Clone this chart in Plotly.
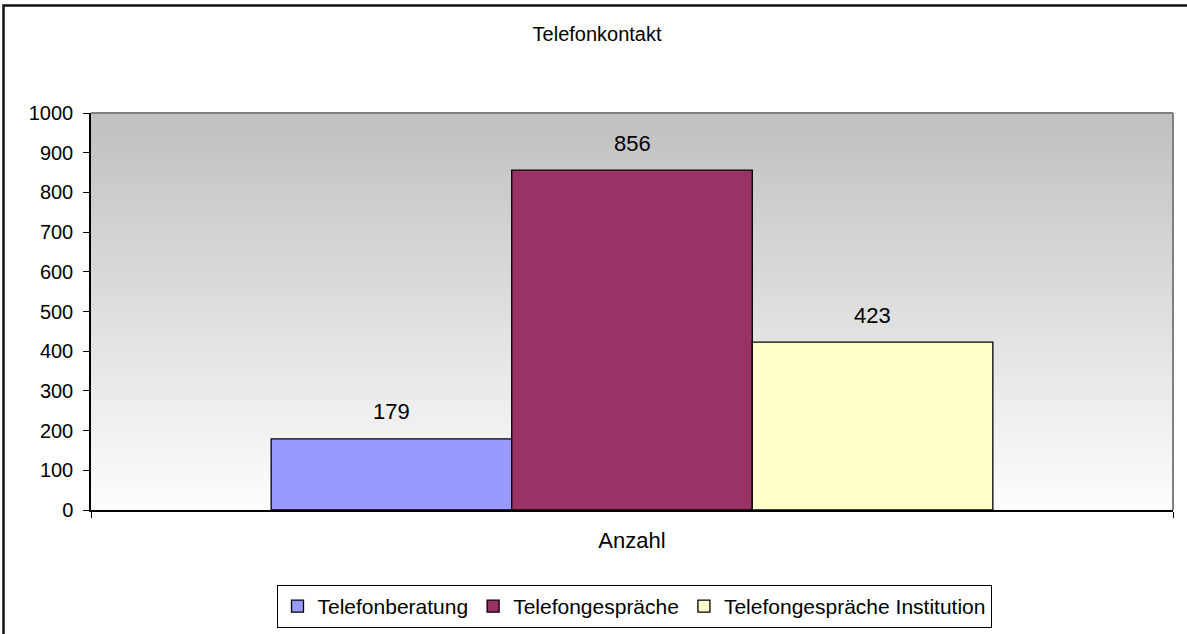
import plotly.graph_objects as go

categories = ["Anzahl"]
series_names = ["Telefonberatung", "Telefongespräche", "Telefongespräche Institution"]
series_values = [179, 856, 423]
series_colors = ["#9999FF", "#993366", "#FFFFCC"]
y_ticks = list(range(0, 1001, 100))

W, H = 1187, 634
L, R, T, B = 91, 1173, 113, 510
pw, ph = R - L, B - T
bargap = 0.333

fig = go.Figure()
for name, val, col in zip(series_names, series_values, series_colors):
    fig.add_trace(go.Bar(
        name=name, x=categories, y=[val],
        marker=dict(color=col, line=dict(color="black", width=1.3)),
        hoverinfo="skip",
    ))

shapes = []
N = 80
for i in range(N):
    f = i / (N - 1)
    g = int(round(253 - (253 - 192) * f))
    shapes.append(dict(type="rect", xref="paper", yref="paper",
                       x0=0, x1=1, y0=i / N, y1=(i + 1) / N + 0.002,
                       fillcolor=f"rgb({g},{g},{g})", line=dict(width=0),
                       layer="below"))
shapes.append(dict(type="line", xref="paper", yref="paper", x0=0, x1=1, y0=1, y1=1,
                   line=dict(color="#808080", width=2)))
shapes.append(dict(type="line", xref="paper", yref="paper", x0=1, x1=1, y0=0, y1=1,
                   line=dict(color="#808080", width=2)))
shapes.append(dict(type="rect", xref="paper", yref="paper",
                   x0=(3.5 - L) / pw, x1=(W + 5 - L) / pw,
                   y0=(B - (H + 5)) / ph, y1=(B - 5.5) / ph,
                   line=dict(color="#111111", width=2.5), fillcolor="rgba(0,0,0,0)"))

bw = (1 - bargap) / len(series_values)
annotations = []
for i, val in enumerate(series_values):
    annotations.append(dict(
        x=(i - (len(series_values) - 1) / 2) * bw, y=val, xref="x", yref="y",
        text=str(val), showarrow=False, yanchor="middle", yshift=27,
        font=dict(size=22, color="black")))

fig.update_layout(
    width=W, height=H,
    margin=dict(l=L, r=W - R, t=T, b=H - B),
    paper_bgcolor="white", plot_bgcolor="rgba(0,0,0,0)",
    font=dict(family="Liberation Sans, Arial, sans-serif", color="black"),
    title=dict(text="Telefonkontakt", x=0.503, xanchor="center",
               y=1 - 34 / H, yanchor="middle", font=dict(size=20)),
    barmode="group", bargap=bargap, bargroupgap=0,
    shapes=shapes, annotations=annotations,
    showlegend=True,
    legend=dict(orientation="h", xref="paper", x=(634 - L) / pw, xanchor="center",
                yref="container", y=(H - 628) / H, yanchor="bottom",
                bordercolor="black", borderwidth=1, bgcolor="white",
                font=dict(size=21),
                itemwidth=30, itemclick=False, itemdoubleclick=False),
    xaxis=dict(type="category", tickson="boundaries", ticks="outside", ticklen=6,
               tickcolor="black", showline=True, linecolor="black", linewidth=1.5,
               showgrid=False, zeroline=False, tickfont=dict(size=22),
               ticklabelstandoff=10, fixedrange=True),
    yaxis=dict(range=[0, 1000], tickvals=y_ticks, ticks="outside", ticklen=6,
               tickcolor="black", showline=True, linecolor="black", linewidth=1.5,
               showgrid=False, zeroline=False, tickfont=dict(size=20),
               ticklabelstandoff=6, fixedrange=True),
)

fig.write_html("out.html", config={"displayModeBar": False},
               post_script="document.body.style.margin='0';")
